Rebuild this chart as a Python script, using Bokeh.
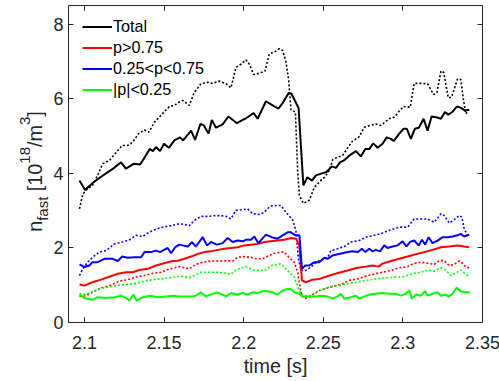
import math
from bokeh.plotting import figure
from bokeh.layouts import row
from bokeh.models import (Range1d, LinearAxis, FixedTicker, Legend, LegendItem,
                          CustomJSTickFormatter)
from bokeh.core.properties import value
from bokeh.embed import file_html
from bokeh.resources import INLINE

# ---------------- data ----------------
x_ticks = [2.1, 2.15, 2.2, 2.25, 2.3, 2.35]
x_tick_labels = ["2.1", "2.15", "2.2", "2.25", "2.3", "2.35"]
y_ticks = [0, 2, 4, 6, 8]

series_names = ["Total", "p>0.75", "0.25<p<0.75", "|p|<0.25"]

# Total (solid)
t_tot = [2.0969, 2.1004, 2.1050, 2.1100, 2.1180, 2.1230, 2.1260, 2.1310, 2.1350, 2.1380,
         2.1410, 2.1430, 2.1450, 2.1475, 2.1500, 2.1530, 2.1565, 2.1600, 2.1620, 2.1670,
         2.1695, 2.1728, 2.1750, 2.1780, 2.1800, 2.1826, 2.1868, 2.1904, 2.1958, 2.1994,
         2.2010, 2.2063, 2.2088, 2.2140, 2.2182, 2.2218, 2.2245, 2.2283, 2.2300, 2.2345,
         2.2375, 2.2400, 2.2429, 2.2454, 2.2496, 2.2520, 2.2554, 2.2580, 2.2605, 2.2630,
         2.2663, 2.2705, 2.2736, 2.2764, 2.2790, 2.2814, 2.2841, 2.2872, 2.2898, 2.2925,
         2.2942, 2.2977, 2.3004, 2.3025, 2.3050, 2.3075, 2.3100, 2.3130, 2.3155, 2.3180,
         2.3210, 2.3239, 2.3264, 2.3285, 2.3310, 2.3340, 2.3365, 2.3390, 2.3417]
n_tot = [3.81, 3.56, 3.74, 3.90, 4.13, 4.30, 4.13, 4.26, 4.24, 4.44,
         4.66, 4.60, 4.71, 4.60, 4.80, 4.69, 4.89, 4.97, 4.89, 5.15,
         4.90, 5.33, 5.29, 5.07, 5.44, 5.23, 5.32, 5.53, 5.35, 5.44,
         5.47, 5.62, 5.47, 5.94, 5.83, 5.74, 5.89, 6.16, 6.14, 5.76,
         3.68, 3.90, 3.81, 3.95, 4.01, 4.04, 4.19, 4.15, 4.30, 4.35,
         4.48, 4.60, 4.46, 4.66, 4.66, 4.81, 4.69, 4.80, 4.97, 4.93,
         4.87, 5.07, 5.20, 5.20, 4.93, 5.20, 5.23, 5.47, 5.15, 5.53,
         5.51, 5.47, 5.65, 5.58, 5.65, 5.80, 5.76, 5.69, 5.71]

# Total (dotted)
t_tot_d = [2.0969, 2.0990, 2.1020, 2.1050, 2.1083, 2.1115, 2.1157, 2.1200, 2.1236, 2.1270,
           2.1303, 2.1340, 2.1377, 2.1405, 2.1440, 2.1470, 2.1500, 2.1534, 2.1565, 2.1596,
           2.1617, 2.1659, 2.1690, 2.1732, 2.1774, 2.1805, 2.1847, 2.1890, 2.1920, 2.1952,
           2.1985, 2.2014, 2.2035, 2.2063, 2.2098, 2.2134, 2.2161, 2.2192, 2.2224, 2.2245,
           2.2266, 2.2283, 2.2297, 2.2325, 2.2339, 2.2350, 2.2375, 2.2412, 2.2444, 2.2475,
           2.2507, 2.2538, 2.2559, 2.2590, 2.2621, 2.2653, 2.2684, 2.2722, 2.2758, 2.2793,
           2.2830, 2.2862, 2.2893, 2.2925, 2.2946, 2.2977, 2.3004, 2.3046, 2.3071, 2.3113,
           2.3155, 2.3193, 2.3214, 2.3239, 2.3256, 2.3285, 2.3306, 2.3343, 2.3364, 2.3381,
           2.3396, 2.3410]
n_tot_d = [3.05, 3.45, 3.59, 3.68, 3.95, 4.26, 4.35, 4.57, 4.75, 4.75,
           4.84, 5.07, 5.17, 5.11, 5.38, 5.51, 5.65, 5.80, 5.83, 5.92,
           5.96, 5.83, 6.18, 6.41, 6.45, 6.42, 6.48, 6.41, 6.30, 6.85,
           6.94, 7.05, 6.94, 6.66, 6.69, 6.75, 7.21, 7.26, 7.35, 7.30,
           6.99, 6.50, 5.71, 5.65, 4.08, 3.41, 3.20, 3.28, 3.63, 3.77,
           3.90, 4.08, 4.37, 4.44, 4.48, 4.69, 4.87, 4.97, 5.24, 5.29,
           5.33, 5.29, 5.40, 5.50, 5.51, 5.67, 5.80, 5.78, 6.42, 6.42,
           6.41, 6.12, 6.18, 6.75, 6.72, 6.03, 6.05, 6.54, 6.52, 5.96,
           5.60, 5.69]

# p>0.75 (solid)
t_hi = [2.0969, 2.1000, 2.1050, 2.1104, 2.1157, 2.1210, 2.1262, 2.1303, 2.1345, 2.1397,
        2.1450, 2.1500, 2.1554, 2.1586, 2.1628, 2.1670, 2.1711, 2.1753, 2.1795, 2.1837,
        2.1879, 2.1920, 2.1962, 2.2004, 2.2046, 2.2088, 2.2130, 2.2171, 2.2213, 2.2255,
        2.2297, 2.2328, 2.2350, 2.2366, 2.2391, 2.2433, 2.2475, 2.2517, 2.2559, 2.2611,
        2.2663, 2.2716, 2.2768, 2.2810, 2.2847, 2.2872, 2.2925, 2.2977, 2.3030, 2.3082,
        2.3134, 2.3186, 2.3239, 2.3291, 2.3343, 2.3385, 2.3417]
n_hi = [1.02, 0.99, 1.08, 1.15, 1.23, 1.31, 1.35, 1.35, 1.41, 1.44,
        1.53, 1.59, 1.65, 1.66, 1.71, 1.77, 1.84, 1.89, 1.91, 1.95,
        1.98, 2.00, 2.02, 2.07, 2.09, 2.11, 2.16, 2.18, 2.20, 2.22,
        2.27, 2.25, 2.07, 1.13, 1.08, 1.15, 1.17, 1.23, 1.29, 1.35,
        1.41, 1.47, 1.50, 1.53, 1.50, 1.58, 1.65, 1.71, 1.77, 1.83,
        1.89, 1.95, 2.02, 2.04, 2.07, 2.04, 2.02]

# p>0.75 (dotted)
t_hi_d = [2.0969, 2.1010, 2.1050, 2.1104, 2.1157, 2.1220, 2.1272, 2.1324, 2.1377, 2.1430,
          2.1481, 2.1534, 2.1596, 2.1628, 2.1659, 2.1700, 2.1743, 2.1795, 2.1847, 2.1900,
          2.1931, 2.1962, 2.2004, 2.2046, 2.2077, 2.2119, 2.2161, 2.2193, 2.2234, 2.2255,
          2.2287, 2.2318, 2.2339, 2.2360, 2.2381, 2.2412, 2.2444, 2.2475, 2.2527, 2.2580,
          2.2622, 2.2663, 2.2716, 2.2758, 2.2810, 2.2872, 2.2925, 2.2977, 2.3030, 2.3071,
          2.3113, 2.3155, 2.3197, 2.3228, 2.3260, 2.3291, 2.3322, 2.3354, 2.3375, 2.3396,
          2.3421]
n_hi_d = [0.70, 0.72, 0.81, 0.93, 0.99, 1.11, 1.15, 1.22, 1.26, 1.32,
          1.35, 1.44, 1.50, 1.47, 1.44, 1.56, 1.62, 1.65, 1.65, 1.66,
          1.65, 1.75, 1.77, 1.75, 1.71, 1.71, 1.80, 1.86, 1.89, 1.89,
          1.74, 1.62, 1.35, 0.81, 0.64, 0.68, 0.77, 0.86, 0.93, 0.99,
          1.04, 1.13, 1.17, 1.23, 1.29, 1.35, 1.40, 1.47, 1.50, 1.59,
          1.62, 1.59, 1.56, 1.66, 1.66, 1.53, 1.56, 1.65, 1.59, 1.48,
          1.47]

# 0.25<p<0.75 (solid)
t_mid = [2.0969, 2.1000, 2.1031, 2.1050, 2.1083, 2.1126, 2.1178, 2.1210, 2.1236, 2.1272,
         2.1314, 2.1356, 2.1377, 2.1418, 2.1450, 2.1475, 2.1500, 2.1523, 2.1544, 2.1570,
         2.1596, 2.1617, 2.1650, 2.1674, 2.1700, 2.1743, 2.1770, 2.1795, 2.1832, 2.1868,
         2.1900, 2.1931, 2.1962, 2.1994, 2.2014, 2.2046, 2.2067, 2.2092, 2.2140, 2.2176,
         2.2213, 2.2245, 2.2276, 2.2297, 2.2325, 2.2350, 2.2366, 2.2387, 2.2412, 2.2444,
         2.2475, 2.2507, 2.2527, 2.2559, 2.2590, 2.2621, 2.2653, 2.2684, 2.2716, 2.2743,
         2.2764, 2.2789, 2.2810, 2.2830, 2.2856, 2.2883, 2.2904, 2.2935, 2.2967, 2.2998,
         2.3023, 2.3044, 2.3071, 2.3099, 2.3120, 2.3140, 2.3162, 2.3186, 2.3218, 2.3250,
         2.3281, 2.3312, 2.3343, 2.3364, 2.3385, 2.3417]
n_mid = [1.56, 1.49, 1.53, 1.62, 1.62, 1.71, 1.71, 1.65, 1.77, 1.74,
         1.75, 1.75, 1.89, 1.89, 1.93, 1.89, 1.95, 2.00, 1.86, 2.02,
         2.09, 2.07, 2.04, 2.16, 2.04, 2.29, 2.07, 2.16, 2.09, 2.13,
         2.27, 2.16, 2.20, 2.18, 2.22, 2.22, 2.31, 2.13, 2.36, 2.29,
         2.25, 2.34, 2.42, 2.42, 2.34, 2.34, 1.44, 1.53, 1.53, 1.62,
         1.62, 1.74, 1.71, 1.80, 1.83, 1.86, 1.89, 1.91, 1.89, 1.98,
         1.89, 1.98, 1.91, 1.95, 1.91, 2.07, 2.00, 2.04, 2.07, 2.18,
         2.04, 2.16, 2.20, 2.07, 2.22, 2.09, 2.29, 2.13, 2.20, 2.29,
         2.29, 2.31, 2.34, 2.38, 2.31, 2.36]

# 0.25<p<0.75 (dotted)
t_mid_d = [2.0969, 2.0990, 2.1020, 2.1050, 2.1094, 2.1136, 2.1188, 2.1240, 2.1283, 2.1324,
           2.1366, 2.1397, 2.1440, 2.1490, 2.1544, 2.1596, 2.1628, 2.1659, 2.1690, 2.1732,
           2.1774, 2.1826, 2.1858, 2.1889, 2.1920, 2.1952, 2.1994, 2.2025, 2.2057, 2.2099,
           2.2130, 2.2161, 2.2182, 2.2213, 2.2234, 2.2255, 2.2283, 2.2307, 2.2328, 2.2345,
           2.2360, 2.2391, 2.2423, 2.2444, 2.2475, 2.2527, 2.2548, 2.2590, 2.2632, 2.2674,
           2.2726, 2.2768, 2.2820, 2.2872, 2.2925, 2.2977, 2.3030, 2.3071, 2.3113, 2.3155,
           2.3197, 2.3239, 2.3260, 2.3291, 2.3322, 2.3354, 2.3370, 2.3385, 2.3406, 2.3421]
n_mid_d = [1.26, 1.44, 1.62, 1.75, 1.89, 1.93, 2.11, 2.16, 2.22, 2.34,
           2.31, 2.40, 2.49, 2.56, 2.60, 2.65, 2.63, 2.60, 2.74, 2.85,
           2.85, 2.87, 2.87, 2.85, 2.78, 3.01, 3.03, 3.05, 2.92, 2.90,
           2.96, 3.10, 3.14, 3.14, 3.14, 3.02, 2.87, 2.76, 2.47, 1.68,
           1.40, 1.40, 1.49, 1.58, 1.66, 1.74, 1.93, 1.98, 2.04, 2.16,
           2.20, 2.29, 2.34, 2.40, 2.49, 2.56, 2.56, 2.78, 2.78, 2.78,
           2.69, 2.92, 2.87, 2.67, 2.76, 2.87, 2.83, 2.51, 2.34, 2.38]

# |p|<0.25 (solid)
t_lo = [2.0969, 2.1000, 2.1050, 2.1083, 2.1136, 2.1188, 2.1230, 2.1262, 2.1283, 2.1308,
        2.1328, 2.1366, 2.1412, 2.1460, 2.1512, 2.1565, 2.1586, 2.1628, 2.1670, 2.1700,
        2.1732, 2.1763, 2.1795, 2.1832, 2.1868, 2.1889, 2.1920, 2.1962, 2.1994, 2.2025,
        2.2057, 2.2088, 2.2120, 2.2150, 2.2182, 2.2213, 2.2245, 2.2272, 2.2297, 2.2318,
        2.2350, 2.2366, 2.2391, 2.2444, 2.2496, 2.2527, 2.2559, 2.2590, 2.2611, 2.2632,
        2.2674, 2.2705, 2.2726, 2.2758, 2.2789, 2.2830, 2.2872, 2.2914, 2.2956, 2.2988,
        2.3019, 2.3040, 2.3057, 2.3082, 2.3113, 2.3140, 2.3155, 2.3186, 2.3218, 2.3239,
        2.3266, 2.3287, 2.3312, 2.3337, 2.3364, 2.3396, 2.3421]
n_lo = [0.75, 0.66, 0.61, 0.68, 0.66, 0.68, 0.72, 0.66, 0.59, 0.75,
        0.59, 0.68, 0.72, 0.68, 0.70, 0.72, 0.70, 0.70, 0.70, 0.72,
        0.81, 0.70, 0.75, 0.81, 0.75, 0.70, 0.79, 0.75, 0.79, 0.75,
        0.81, 0.79, 0.84, 0.84, 0.81, 0.75, 0.86, 0.90, 0.90, 0.81,
        0.77, 0.70, 0.70, 0.70, 0.72, 0.70, 0.64, 0.70, 0.77, 0.64,
        0.68, 0.72, 0.64, 0.70, 0.75, 0.77, 0.79, 0.77, 0.77, 0.72,
        0.77, 0.86, 0.64, 0.75, 0.72, 0.84, 0.72, 0.77, 0.81, 0.72,
        0.75, 0.70, 0.77, 0.93, 0.84, 0.81, 0.81]

# |p|<0.25 (dotted)
t_lo_d = [2.0969, 2.1000, 2.1042, 2.1094, 2.1146, 2.1200, 2.1260, 2.1324, 2.1377, 2.1430,
          2.1481, 2.1534, 2.1586, 2.1617, 2.1659, 2.1690, 2.1732, 2.1784, 2.1837, 2.1879,
          2.1920, 2.1952, 2.1983, 2.2014, 2.2036, 2.2067, 2.2109, 2.2140, 2.2171, 2.2213,
          2.2234, 2.2255, 2.2287, 2.2318, 2.2345, 2.2370, 2.2412, 2.2454, 2.2496, 2.2548,
          2.2600, 2.2653, 2.2705, 2.2768, 2.2830, 2.2893, 2.2956, 2.3009, 2.3061, 2.3113,
          2.3166, 2.3197, 2.3239, 2.3270, 2.3301, 2.3333, 2.3364, 2.3385, 2.3417]
n_lo_d = [0.77, 0.75, 0.81, 0.90, 0.95, 0.99, 1.02, 1.05, 1.11, 1.15,
          1.17, 1.20, 1.23, 1.24, 1.20, 1.26, 1.35, 1.35, 1.35, 1.33,
          1.29, 1.41, 1.46, 1.50, 1.46, 1.40, 1.40, 1.41, 1.53, 1.56,
          1.58, 1.49, 1.35, 1.22, 0.90, 0.72, 0.72, 0.81, 0.88, 0.97,
          0.99, 1.04, 1.08, 1.13, 1.17, 1.20, 1.22, 1.23, 1.31, 1.35,
          1.41, 1.38, 1.47, 1.40, 1.26, 1.33, 1.41, 1.33, 1.23]

# ---------------- styling ----------------
FONT = "Liberation Sans"
AX = "#262626"
COL_TOT, COL_HI, COL_MID, COL_LO = "#000000", "#ff0000", "#0000ff", "#00ff00"

PAGE_W, PAGE_H = 499, 381
LAB_W = 50                      # width of the strip holding the y-axis title
FRAME_L, FRAME_T, FRAME_W, FRAME_H = 66, 5, 414, 317

p = figure(frame_width=FRAME_W, frame_height=FRAME_H, output_backend="svg", toolbar_location=None,
           x_range=Range1d(2.09, 2.35), y_range=Range1d(0, 8.51),
           min_border_left=FRAME_L - LAB_W, min_border_right=PAGE_W - FRAME_L - FRAME_W,
           min_border_top=FRAME_T, min_border_bottom=PAGE_H - FRAME_T - FRAME_H,
           x_axis_label="time [s]")
p.grid.visible = False
p.outline_line_color = None
p.border_fill_color = "white"


def style_axis(ax, show_labels=True):
    ax.axis_line_color = AX
    ax.axis_line_width = 1
    ax.major_tick_line_color = AX
    ax.major_tick_in = 5
    ax.major_tick_out = 0
    ax.minor_tick_line_color = None
    ax.major_label_text_font = FONT
    ax.major_label_text_color = AX
    ax.major_label_text_font_size = "18px"
    ax.axis_label_text_font = FONT
    ax.axis_label_text_font_style = "normal"
    ax.axis_label_text_color = AX
    ax.axis_label_text_font_size = "19.8px"
    if not show_labels:
        ax.formatter = CustomJSTickFormatter(code="return ''")
        ax.major_label_text_font_size = "0px"
        ax.major_label_standoff = 0


xa = p.xaxis[0]
ya = p.yaxis[0]
xa.ticker = FixedTicker(ticks=x_ticks)
xa.major_label_overrides = {t: s for t, s in zip(x_ticks, x_tick_labels)}
ya.ticker = FixedTicker(ticks=y_ticks)
style_axis(xa)
style_axis(ya)
xa.major_label_standoff = 13
xa.axis_label_standoff = 3
ya.major_label_standoff = 5

top_ax = LinearAxis(ticker=FixedTicker(ticks=x_ticks))
right_ax = LinearAxis(ticker=FixedTicker(ticks=y_ticks))
style_axis(top_ax, show_labels=False)
style_axis(right_ax, show_labels=False)
p.add_layout(top_ax, "above")
p.add_layout(right_ax, "right")

solid_w, dot_w, dot_dash = 2, 1.6, "2 2"
p.line(t_tot_d, n_tot_d, line_color=COL_TOT, line_width=dot_w, line_dash=dot_dash)
p.line(t_hi_d, n_hi_d, line_color=COL_HI, line_width=dot_w, line_dash=dot_dash)
p.line(t_mid_d, n_mid_d, line_color=COL_MID, line_width=dot_w, line_dash=dot_dash)
p.line(t_lo_d, n_lo_d, line_color=COL_LO, line_width=dot_w, line_dash=dot_dash)
r_tot = p.line(t_tot, n_tot, line_color=COL_TOT, line_width=solid_w)
r_hi = p.line(t_hi, n_hi, line_color=COL_HI, line_width=solid_w)
r_mid = p.line(t_mid, n_mid, line_color=COL_MID, line_width=solid_w)
r_lo = p.line(t_lo, n_lo, line_color=COL_LO, line_width=solid_w)

legend = Legend(items=[LegendItem(label=n, renderers=[r])
                       for n, r in zip(series_names, [r_tot, r_hi, r_mid, r_lo])],
                location=(14, 222), border_line_color=None, background_fill_alpha=0,
                label_text_font=FONT, label_text_font_size="16.2px", label_text_color="#000000",
                glyph_width=30, glyph_height=21, label_height=21, spacing=0,
                padding=0, margin=0, label_standoff=1)
p.add_layout(legend)

# ---------- strip with the y-axis title: n_fast [10^18/m^3] ----------
lab = figure(frame_width=LAB_W, frame_height=PAGE_H, output_backend="svg", toolbar_location=None,
             x_range=Range1d(0, LAB_W), y_range=Range1d(0, PAGE_H),
             min_border=0, min_border_left=0, min_border_right=0,
             min_border_top=0, min_border_bottom=0)
lab.axis.visible = False
lab.grid.visible = False
lab.outline_line_color = None
lab.border_fill_color = "white"

big, small = 19.8, 15.0
adv = {"n": .556, "f": .278, "a": .556, "s": .5, "t": .278, " ": .278, "[": .278,
       "1": .556, "0": .556, "8": .556, "/": .278, "m": .833, "3": .556, "]": .278}
# (text, font size, baseline shift, extra advance after the piece)
pieces = [("n", big, 0, 0), ("fast", small, 8, adv[" "] * big), ("[10", big, 0, 0),
          ("18", small, -10, 0), ("/m", big, 0, 0), ("3", small, -10, 0), ("]", big, 0, 0)]
total_len = sum(sum(adv[c] for c in s) * fs + extra for s, fs, _, extra in pieces)
center_from_bottom = PAGE_H - 166
pos = center_from_bottom - total_len / 2
base_x = 34
for s, fs, dx, extra in pieces:
    lab.text(x=[base_x + dx], y=[pos], text=[s], angle=math.pi / 2,
             text_font=value(FONT), text_font_size=value(f"{fs}px"), text_color=AX,
             text_align="left", text_baseline="alphabetic")
    pos += sum(adv[c] for c in s) * fs + extra

layout = row(lab, p, spacing=0)
open("out.html", "w").write(file_html(layout, INLINE))
